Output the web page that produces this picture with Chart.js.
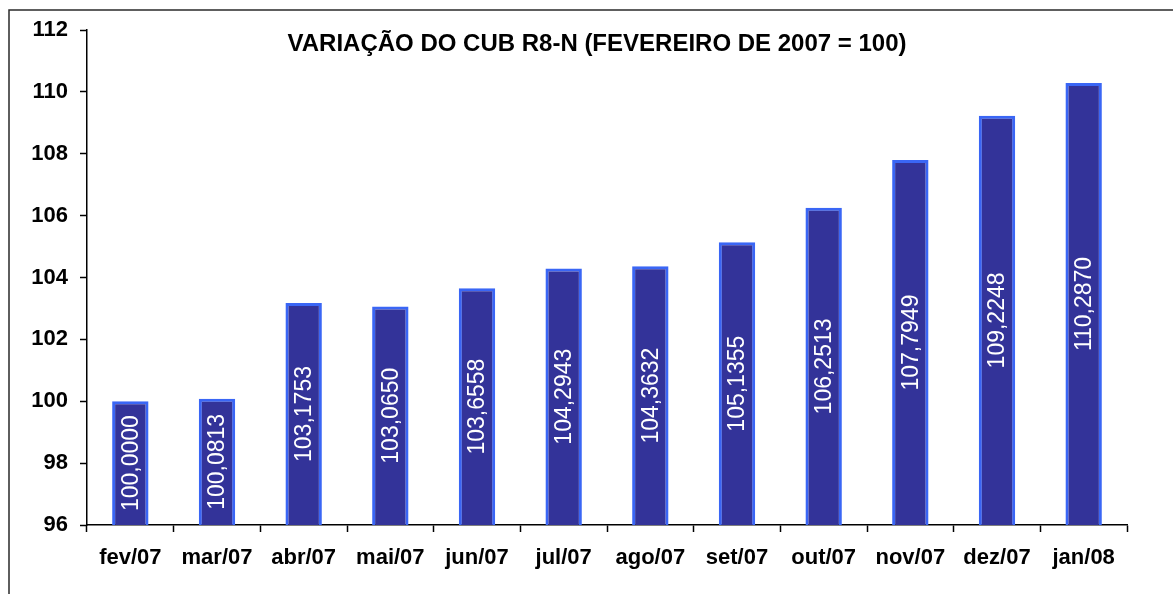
<!DOCTYPE html>
<html>
<head>
<meta charset="utf-8">
<script src="https://cdn.jsdelivr.net/npm/chart.js@4/dist/chart.umd.min.js"></script>
<style>
  html, body { margin: 0; padding: 0; background: #ffffff; }
  #wrap { width: 1173px; height: 594px; position: relative; }
</style>
</head>
<body>
<div id="wrap"><canvas id="c" width="1173" height="594"></canvas></div>
<script>
const titleText = "VARIAÇÃO DO CUB R8-N (FEVEREIRO DE 2007 = 100)";
const categories = ["fev/07", "mar/07", "abr/07", "mai/07", "jun/07", "jul/07", "ago/07", "set/07", "out/07", "nov/07", "dez/07", "jan/08"];
const cubValues = [100.0000, 100.0813, 103.1753, 103.0650, 103.6558, 104.2943, 104.3632, 105.1355, 106.2513, 107.7949, 109.2248, 110.2870];
const yMin = 96, yMax = 112, yStep = 2;

const fontFamily = "'Liberation Sans', Arial, sans-serif";

function drawValueLabels(chart) {
  const ctx = chart.ctx;
  const meta = chart.getDatasetMeta(0);
  const data = chart.data.datasets[0].data;
  const yScale = chart.scales.y;
  const axisBottom = yScale.getPixelForValue(yMin);
  ctx.save();
  ctx.fillStyle = '#ffffff';
  ctx.font = "23px " + fontFamily;
  ctx.textAlign = 'center';
  ctx.textBaseline = 'middle';
  for (let i = 0; i < data.length; i++) {
    const el = meta.data[i];
    const top = el.y;
    const base = Math.min(el.base, axisBottom);
    const cy = (top + base) / 2;
    const txt = data[i].toFixed(4).replace('.', ',');
    ctx.save();
    ctx.translate(el.x + 1, cy);
    ctx.rotate(-Math.PI / 2);
    ctx.fillText(txt, 0, 0);
    ctx.restore();
  }
  ctx.restore();
}

const framePlugin = {
  id: 'frame',
  beforeDraw(chart) {
    const ctx = chart.ctx;
    ctx.save();
    ctx.fillStyle = '#ffffff';
    ctx.fillRect(0, 0, chart.width, chart.height);
    ctx.strokeStyle = '#2a2a2a';
    ctx.lineWidth = 1.5;
    ctx.strokeRect(9, 10, chart.width + 50, chart.height + 50);
    ctx.restore();
  },
  afterDatasetsDraw(chart) {
    drawValueLabels(chart);
  },
  afterDraw(chart) {
    const ctx = chart.ctx;
    ctx.save();
    ctx.fillStyle = '#000000';
    ctx.font = "bold 24px " + fontFamily;
    ctx.textAlign = 'center';
    ctx.textBaseline = 'middle';
    ctx.fillText(titleText, 597, 44);
    ctx.restore();
  }
};

new Chart(document.getElementById('c'), {
  type: 'bar',
  data: {
    labels: categories,
    datasets: [{
      data: cubValues,
      backgroundColor: '#333399',
      borderColor: '#3a66f5',
      borderWidth: { top: 3, left: 3, right: 3, bottom: 0 },
      borderSkipped: false,
      barPercentage: 0.42,
      categoryPercentage: 1.0
    }]
  },
  options: {
    responsive: false,
    animation: false,
    devicePixelRatio: 1,
    layout: { padding: { left: 0, top: 30, right: 46, bottom: 0 } },
    plugins: {
      legend: { display: false },
      title: { display: false },
      tooltip: { enabled: false }
    },
    scales: {
      x: {
        grid: { display: true, drawOnChartArea: false, offset: true, tickLength: 7, color: '#000000', tickColor: '#000000', tickWidth: 1.5 },
        border: { display: true, color: '#000000', width: 1.5 },
        ticks: { color: '#000000', padding: 13, font: { family: fontFamily, size: 22, weight: 'bold' }, maxRotation: 0, autoSkip: false },
        afterFit(scale) { scale.height = 69; }
      },
      y: {
        min: yMin,
        max: yMax,
        grid: { display: true, drawOnChartArea: false, tickLength: 7, color: '#000000', tickColor: '#000000', tickWidth: 1.5 },
        border: { display: true, color: '#000000', width: 1.5 },
        ticks: { stepSize: yStep, color: '#000000', padding: 12, font: { family: fontFamily, size: 22, weight: 'bold' } },
        afterFit(scale) { scale.width = 87; }
      }
    }
  },
  plugins: [framePlugin]
});
</script>
</body>
</html>
